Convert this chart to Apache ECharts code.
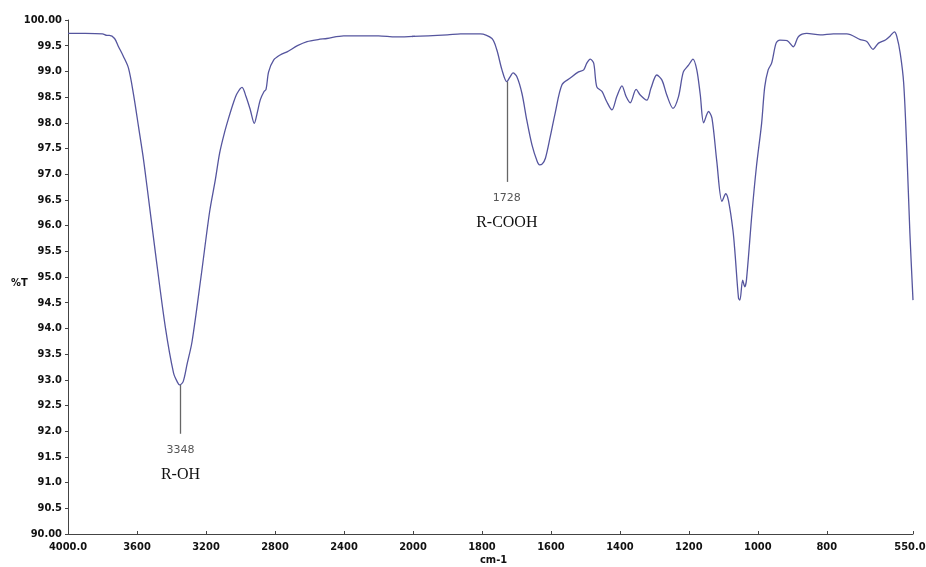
<!DOCTYPE html>
<html>
<head>
<meta charset="utf-8">
<script src="https://cdn.jsdelivr.net/npm/echarts@6/dist/echarts.min.js"></script>
<style>
  html, body { margin: 0; padding: 0; background: #fff; }
  #ir-chart { width: 926px; height: 567px; }
</style>
</head>
<body>
<div id="ir-chart"></div>
<script>
// wavenumber (cm-1)
var wavenumbers = [4000, 3900, 3800, 3774, 3760, 3730, 3707, 3680, 3649, 3620, 3591, 3565, 3542, 3494, 3436, 3388, 3365, 3353, 3333, 3310, 3281, 3229, 3179, 3146, 3121, 3095, 3069, 3040, 3020, 2991, 2968, 2943, 2920, 2904, 2885, 2865, 2852, 2837, 2808, 2770, 2730, 2670, 2614, 2550, 2499, 2402, 2305, 2200, 2100, 2000, 1900, 1862, 1805, 1771, 1757, 1742, 1728, 1718, 1710, 1699, 1684, 1670, 1655, 1640, 1633, 1625, 1616, 1602, 1588, 1568, 1544, 1520, 1505, 1496, 1486, 1476, 1467, 1452, 1438, 1423, 1409, 1394, 1382, 1370, 1353, 1341, 1322, 1310, 1293, 1278, 1264, 1246, 1230, 1216, 1201, 1188, 1177, 1167, 1157, 1143, 1133, 1119, 1104, 1093, 1085, 1072, 1066, 1056, 1052, 1044, 1038, 1033, 1017, 1004, 989, 980, 970, 960, 947, 936, 915, 897, 882, 858, 819, 781, 742, 703, 684, 666, 650, 630, 616, 604, 597, 587, 577, 568, 559, 550];
// %T
var transmittance = [99.74, 99.74, 99.73, 99.70, 99.70, 99.64, 99.48, 99.30, 99.06, 98.55, 97.92, 97.35, 96.76, 95.49, 94.03, 93.13, 92.95, 92.90, 92.96, 93.30, 93.74, 95.00, 96.27, 96.89, 97.41, 97.78, 98.09, 98.40, 98.57, 98.69, 98.51, 98.25, 97.99, 98.18, 98.45, 98.60, 98.65, 98.99, 99.22, 99.32, 99.38, 99.50, 99.58, 99.62, 99.64, 99.69, 99.69, 99.69, 99.67, 99.68, 99.71, 99.73, 99.73, 99.64, 99.42, 99.03, 98.80, 98.90, 98.97, 98.90, 98.57, 98.05, 97.57, 97.25, 97.18, 97.20, 97.31, 97.73, 98.18, 98.74, 98.87, 98.99, 99.03, 99.16, 99.24, 99.16, 98.70, 98.61, 98.41, 98.25, 98.51, 98.72, 98.51, 98.39, 98.65, 98.54, 98.44, 98.67, 98.93, 98.83, 98.54, 98.28, 98.51, 98.99, 99.12, 99.24, 99.03, 98.55, 98.00, 98.22, 98.09, 97.25, 96.47, 96.62, 96.48, 95.90, 95.45, 94.59, 94.55, 94.94, 94.81, 94.94, 96.24, 97.15, 97.99, 98.70, 99.03, 99.16, 99.55, 99.61, 99.60, 99.48, 99.68, 99.74, 99.71, 99.73, 99.73, 99.62, 99.58, 99.43, 99.55, 99.61, 99.69, 99.77, 99.68, 99.35, 98.77, 97.47, 95.85, 94.55];

// tick labels of the two x scales (high range is compressed)
var xTicksHigh = [4000, 3600, 3200, 2800, 2400, 2000];
var xTicksLow = [1800, 1600, 1400, 1200, 1000, 800, 550];

// peak annotations: wavenumber, top and bottom of the marker, group name
var peakWave = [3348, 1728];
var peakTop = [92.9, 98.8];
var peakBottom = [91.95, 96.85];
var peakGroup = ['R-OH', 'R-COOH'];

var pts = wavenumbers.map(function (w, i) { return [w, transmittance[i]]; });

var axisColor = '#444';
var fontName = '"DejaVu Sans Condensed", "DejaVu Sans"';
var labelFont = { fontFamily: fontName, fontWeight: 'bold', fontSize: 11, color: '#111' };

function peakMark(i) {
  return {
    silent: true,
    symbol: ['none', 'none'],
    lineStyle: { color: '#666', width: 1.3, type: 'solid' },
    label: {
      show: true,
      position: 'end',
      distance: 4,
      formatter: '{a|' + peakWave[i] + '}\n{b|' + peakGroup[i] + '}',
      rich: {
        a: { fontFamily: 'DejaVu Sans', fontSize: 11, color: '#555', lineHeight: 24, align: 'center' },
        b: { fontFamily: 'Liberation Serif', fontSize: 16, color: '#111', lineHeight: 26, align: 'center' }
      }
    },
    data: [[{ coord: [peakWave[i], peakTop[i]] }, { coord: [peakWave[i], peakBottom[i]] }]]
  };
}

function yAxisCfg(show) {
  return {
    type: 'value',
    min: 90,
    max: 100,
    interval: 0.5,
    show: show,
    axisLine: { show: true, lineStyle: { color: axisColor, width: 1 } },
    axisTick: { show: true, length: 3, lineStyle: { color: axisColor } },
    axisLabel: Object.assign({
      margin: 6,
      formatter: function (v) { return (v === 100 || v === 90) ? v.toFixed(2) : v.toFixed(1); }
    }, labelFont),
    splitLine: { show: false }
  };
}

var chart = echarts.init(document.getElementById('ir-chart'));
var option = {
  animation: false,
  grid: [
    { left: 68, top: 20, width: 345, height: 514, outerBoundsMode: 'none' },
    { left: 413, top: 20, width: 500, height: 514, outerBoundsMode: 'none' }
  ],
  xAxis: [{
    gridIndex: 0,
    type: 'value',
    inverse: true,
    min: 2000,
    max: 4000,
    interval: 400,
    axisLine: { lineStyle: { color: axisColor, width: 1 } },
    axisTick: { inside: true, length: 3, lineStyle: { color: axisColor } },
    axisLabel: Object.assign({
      margin: 8,
      showMinLabel: true,
      showMaxLabel: true,
      formatter: function (v) { return v === xTicksHigh[0] ? v.toFixed(1) : String(v); }
    }, labelFont),
    splitLine: { show: false }
  }, {
    gridIndex: 1,
    type: 'value',
    inverse: true,
    min: 550,
    max: 2000,
    axisLine: { lineStyle: { color: axisColor, width: 1 } },
    axisTick: { inside: true, length: 3, customValues: xTicksLow, lineStyle: { color: axisColor } },
    axisLabel: Object.assign({
      margin: 8,
      customValues: xTicksLow,
      // last label is nudged left so it stays on the canvas
      formatter: function (v) { return v === 550 ? '{e|' + v.toFixed(1) + '}' : String(v); },
      rich: { e: Object.assign({ padding: [0, 6, 0, 0] }, labelFont) }
    }, labelFont),
    splitLine: { show: false }
  }],
  yAxis: [
    Object.assign(yAxisCfg(true), { gridIndex: 0 }),
    Object.assign(yAxisCfg(false), { gridIndex: 1 })
  ],
  graphic: [{
    type: 'text',
    left: 11,
    top: 278,
    style: { text: '%T', font: 'bold 11px ' + fontName, fill: '#111' }
  }, {
    type: 'text',
    left: 480,
    top: 555,
    style: { text: 'cm-1', font: 'bold 11px ' + fontName, fill: '#111' }
  }],
  series: [{
    type: 'line',
    xAxisIndex: 0,
    yAxisIndex: 0,
    data: pts,
    showSymbol: false,
    smooth: 0.3,
    clip: true,
    lineStyle: { color: '#55559e', width: 1.3 },
    markLine: peakMark(0)
  }, {
    type: 'line',
    xAxisIndex: 1,
    yAxisIndex: 1,
    data: pts,
    showSymbol: false,
    smooth: 0.3,
    clip: true,
    lineStyle: { color: '#55559e', width: 1.3 },
    markLine: peakMark(1)
  }]
};
chart.setOption(option);
</script>
</body>
</html>
